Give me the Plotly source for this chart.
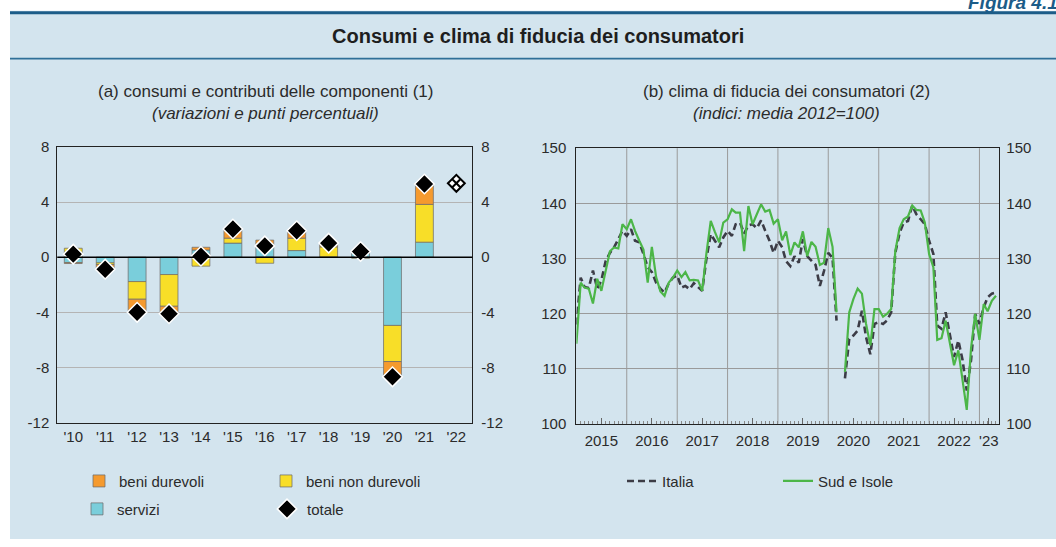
import plotly.graph_objects as go
import pandas as pd

# ---------------- data: panel (a) ----------------
anni = ["'10", "'11", "'12", "'13", "'14", "'15", "'16", "'17", "'18", "'19", "'20", "'21", "'22"]
servizi = [-0.39, -0.41, -1.77, -1.26, 0.52, 1.02, 0.80, 0.48, 0.02, 0.42, -4.95, 1.09, None]
beni_non_durevoli = [0.65, -0.12, -1.28, -2.30, -0.65, 0.36, -0.44, 0.90, 0.73, -0.08, -2.62, 2.74, None]
beni_durevoli = [-0.07, -0.33, -0.95, -0.53, 0.20, 0.65, 0.44, 0.56, 0.27, 0.05, -1.12, 1.48, None]
totale = [0.22, -0.87, -4.00, -4.10, 0.07, 2.04, 0.82, 1.92, 1.02, 0.41, -8.68, 5.31, None]
totale_stima = [None, None, None, None, None, None, None, None, None, None, None, None, 5.36]
ticks_a = [8, 4, 0, -4, -8, -12]

# ---------------- data: panel (b) ----------------
inizio_serie = "2015-01-01"
italia = [118.0, 126.5, 124.8, 124.6, 127.8, 124.5, 126.0, 129.5, 131.0, 132.0, 133.5, 135.0,
          134.1, 135.3, 133.2, 132.9, 130.8, 128.4, 127.5, 125.6, 124.5, 123.8, 125.5, 126.5,
          126.9, 124.7, 125.0, 124.4, 125.5, 124.8, 124.1, 130.0, 134.4, 133.2, 132.0, 133.8,
          135.0, 134.1, 136.2, 136.5, 134.5, 136.0, 136.2, 135.5, 136.9, 135.0, 133.2, 131.0,
          133.2, 132.0, 129.5, 128.6, 130.4, 129.2, 133.5, 130.4, 129.6, 128.8, 125.0, 127.7,
          131.0, 130.1, 118.7, None, 108.2, 115.4, 116.0, 116.9, 120.5, 115.7, 112.6, 118.1,
          118.4, 118.1, 118.7, 120.2, 131.0, 134.6, 136.5, 136.8, 139.6, 138.0, 137.1, 136.2,
          133.2, 130.8, 117.8, 117.2, 120.2, 116.3, 112.1, 115.1, 111.5, 106.0, 111.5, 119.9,
          118.1, 121.1, 122.9, 123.6, 123.8]
sud_isole = [114.5, 125.6, 124.7, 124.5, 121.8, 126.3, 124.1, 128.0, 131.3, 132.0, 131.8, 136.2,
             135.3, 137.1, 135.0, 133.2, 131.6, 125.6, 132.1, 126.6, 124.0, 123.2, 125.6, 126.5,
             127.8, 126.6, 127.5, 126.0, 126.1, 126.0, 124.1, 131.0, 136.8, 134.8, 132.9, 136.5,
             137.1, 138.9, 138.3, 138.3, 131.3, 139.5, 136.2, 138.0, 139.8, 138.5, 138.8, 136.3,
             137.1, 133.3, 134.9, 130.6, 132.9, 132.0, 134.9, 130.4, 133.0, 132.1, 128.8, 129.2,
             135.5, 132.1, 120.2, None, 109.4, 120.2, 122.6, 124.5, 123.6, 118.1, 114.2, 120.8,
             120.8, 119.4, 119.9, 120.8, 131.3, 135.5, 137.1, 137.6, 139.6, 138.8, 138.7, 136.5,
             130.8, 128.4, 115.2, 115.5, 118.7, 114.8, 110.6, 113.3, 107.9, 102.5, 113.6, 119.9,
             115.2, 121.7, 120.4, 122.3, 123.2]
etichette_b = ["2015", "2016", "2017", "2018", "2019", "2020", "2021", "2022", "'23"]
posizioni_b = ["2015-07-01", "2016-07-01", "2017-07-01", "2018-07-01", "2019-07-01",
               "2020-07-01", "2021-07-01", "2022-07-01", "2023-03-10"]
anni_griglia = [2016, 2017, 2018, 2019, 2020, 2021, 2022, 2023]
ticks_b = [150, 140, 130, 120, 110, 100]

date_b = pd.date_range(inizio_serie, periods=len(italia), freq="MS")

# ---------------- style ----------------
W, H = 1056, 547
FONT = "Liberation Sans, Arial, Helvetica, sans-serif"
TXT = "#2b2b2b"
BG = "#d3e4ee"
C_DUR = "#f59a2e"
C_NDUR = "#f8de28"
C_SERV = "#7acedb"
EDGE = "rgba(110,110,110,0.75)"

# the photographed page is offset/compressed slightly in height: compensate
Y_OFF, Y_SCALE = 7.8, 0.971


def px(x):
    return x / W


def py(y):
    return 1 - ((y - Y_OFF) / Y_SCALE) / H


fig = go.Figure()

# panel (a) bars
fig.add_trace(go.Bar(x=anni, y=servizi, name="servizi", marker=dict(color=C_SERV, line=dict(color=EDGE, width=1)),
                     width=0.56, legend="legend3", xaxis="x", yaxis="y"))
fig.add_trace(go.Bar(x=anni, y=beni_non_durevoli, name="beni non durevoli",
                     marker=dict(color=C_NDUR, line=dict(color=EDGE, width=1)),
                     width=0.56, legend="legend2", xaxis="x", yaxis="y"))
fig.add_trace(go.Bar(x=anni, y=beni_durevoli, name="beni durevoli",
                     marker=dict(color=C_DUR, line=dict(color=EDGE, width=1)),
                     width=0.56, legend="legend", xaxis="x", yaxis="y"))
fig.add_trace(go.Scatter(x=anni, y=totale, name="totale", mode="markers",
                         marker=dict(symbol="diamond", size=15, color="black", line=dict(color="white", width=1.5)),
                         legend="legend4", xaxis="x", yaxis="y"))
fig.add_trace(go.Scatter(x=anni, y=totale_stima, name="totale (stima)", mode="markers", showlegend=False,
                         marker=dict(symbol="diamond-x", size=13, color="white", line=dict(color="black", width=2)),
                         xaxis="x", yaxis="y"))
# invisible helper so the right-hand axis of panel (a) is drawn
fig.add_trace(go.Scatter(x=anni, y=totale, mode="markers", marker=dict(opacity=0), showlegend=False,
                         hoverinfo="skip", xaxis="x", yaxis="y3"))

# panel (b) lines
fig.add_trace(go.Scatter(x=date_b, y=italia, name="Italia", mode="lines",
                         line=dict(color="#3c3c46", width=2.6, dash="7px,4px"),
                         legend="legend5", xaxis="x2", yaxis="y2"))
fig.add_trace(go.Scatter(x=date_b, y=sud_isole, name="Sud e Isole", mode="lines",
                         line=dict(color="#4cb648", width=2.2),
                         legend="legend6", xaxis="x2", yaxis="y2"))
fig.add_trace(go.Scatter(x=date_b, y=italia, mode="lines", line=dict(width=0), opacity=0, showlegend=False,
                         hoverinfo="skip", xaxis="x2", yaxis="y4"))

dom_ax = [px(57.3), px(472.3)]
dom_ay = [py(422.3), py(146)]
dom_bx = [px(576.4), px(999.3)]
dom_by = [py(423.3), py(147.3)]

tickfont = dict(family=FONT, size=15, color=TXT)
testo_ticks_a = [str(v) for v in ticks_a]
testo_ticks_b = [str(v) for v in ticks_b]

shapes = [
    dict(type="rect", xref="paper", yref="paper", x0=px(10), x1=1.0, y0=0, y1=py(9.5), fillcolor=BG,
         line=dict(width=0), layer="below"),
    dict(type="line", xref="paper", yref="paper", x0=px(10), x1=1.0, y0=py(11.5), y1=py(11.5),
         line=dict(color="#1c5c88", width=3)),
    dict(type="line", xref="paper", yref="paper", x0=px(10), x1=1.0, y0=py(57.5), y1=py(57.5),
         line=dict(color="#2f6f98", width=1.6)),
    # zero line of panel (a), above the bars
    dict(type="line", xref="x domain", yref="y", x0=0, x1=1, y0=0, y1=0,
         line=dict(color="black", width=1.5), layer="above"),
]
for a in anni_griglia:
    shapes.append(dict(type="line", xref="x2", yref="y2 domain", x0=f"{a}-01-01", x1=f"{a}-01-01",
                       y0=0, y1=1, line=dict(color="#9a9a9a", width=1), layer="below"))

annotations = [
    dict(text="<b><i>Figura 4.1</i></b>", xref="paper", yref="paper", x=px(966), y=1 - 6 / H,
         xanchor="left", yanchor="bottom", showarrow=False,
         font=dict(family=FONT, size=19, color="#1c5c88")),
    dict(text="<b>Consumi e clima di fiducia dei consumatori</b>", xref="paper", yref="paper",
         x=px(538), y=py(35), xanchor="center", yanchor="middle", showarrow=False,
         font=dict(family=FONT, size=20, color="#1e1e1e")),
    dict(text="(a) consumi e contributi delle componenti (1)", xref="paper", yref="paper",
         x=px(265), y=py(90), xanchor="center", yanchor="middle", showarrow=False,
         font=dict(family=FONT, size=17, color=TXT)),
    dict(text="<i>(variazioni e punti percentuali)</i>", xref="paper", yref="paper",
         x=px(265), y=py(113), xanchor="center", yanchor="middle", showarrow=False,
         font=dict(family=FONT, size=17, color=TXT)),
    dict(text="(b) clima di fiducia dei consumatori (2)", xref="paper", yref="paper",
         x=px(786), y=py(90), xanchor="center", yanchor="middle", showarrow=False,
         font=dict(family=FONT, size=17, color=TXT)),
    dict(text="<i>(indici: media 2012=100)</i>", xref="paper", yref="paper",
         x=px(786), y=py(113), xanchor="center", yanchor="middle", showarrow=False,
         font=dict(family=FONT, size=17, color=TXT)),
]


def leg(x, y):
    return dict(x=px(x), y=py(y), xanchor="left", yanchor="middle", bgcolor="rgba(0,0,0,0)",
                font=dict(family=FONT, size=15, color=TXT), orientation="h")


fig.update_layout(
    width=W, height=H, margin=dict(l=0, r=0, t=0, b=0),
    paper_bgcolor="white", plot_bgcolor="white",
    barmode="relative", bargap=0.44,
    font=dict(family=FONT, size=15, color=TXT),
    shapes=shapes, annotations=annotations,
    xaxis=dict(domain=dom_ax, anchor="y", type="category", range=[-0.5, 12.5],
               showline=True, linecolor="#222", linewidth=1, mirror=True, ticks="",
               tickfont=tickfont, showgrid=False),
    yaxis=dict(domain=dom_ay, anchor="x", range=[-12, 8], tickvals=ticks_a, ticktext=testo_ticks_a,
               showline=True, linecolor="#222", linewidth=1, mirror=True,
               gridcolor="#b4b4b4", gridwidth=1, zeroline=False, ticks="", tickfont=tickfont,
               ticklabelstandoff=4),
    yaxis3=dict(overlaying="y", anchor="x", side="right", range=[-12, 8], tickvals=ticks_a,
                ticktext=testo_ticks_a,
                showgrid=False, zeroline=False, ticks="", tickfont=tickfont, showline=False,
                ticklabelstandoff=8),
    xaxis2=dict(domain=dom_bx, anchor="y2", type="date", range=["2015-01-01", "2023-05-25"],
                tickvals=posizioni_b, ticktext=etichette_b, showgrid=False,
                showline=True, linecolor="#222", linewidth=1.2, mirror=True,
                ticks="inside", ticklen=6, tickcolor="#666", tickfont=tickfont,
                minor=dict(dtick="M1", tick0="2015-01-01", ticks="inside", ticklen=3,
                           tickcolor="#888", showgrid=False),
                ticklabelstandoff=3),
    yaxis2=dict(domain=dom_by, anchor="x2", range=[100, 150], tickvals=ticks_b, ticktext=testo_ticks_b,
                showline=True, linecolor="#222", linewidth=1.2, mirror=True,
                gridcolor="#9a9a9a", gridwidth=1, zeroline=False, ticks="", tickfont=tickfont,
                ticklabelstandoff=6),
    yaxis4=dict(overlaying="y2", anchor="x2", side="right", range=[100, 150], tickvals=ticks_b,
                ticktext=testo_ticks_b,
                showgrid=False, zeroline=False, ticks="", tickfont=tickfont, showline=False,
                ticklabelstandoff=6),
    legend=leg(79, 481),
    legend2=leg(266, 481),
    legend3=leg(77, 509),
    legend4=leg(267, 509),
    legend5=leg(622, 481),
    legend6=leg(778, 481),
    showlegend=True,
)

page_fix = (
    "var h=document.documentElement;h.style.margin='0';h.style.overflow='hidden';"
    "h.style.backgroundColor='" + BG + "';"
    "h.style.backgroundImage='linear-gradient(#ffffff, #ffffff)';"
    "h.style.backgroundRepeat='no-repeat';h.style.backgroundSize='100% 50%';"
    "document.body.style.margin='0';document.body.style.padding='0';"
    "document.body.style.background='transparent';"
    "document.body.style.overflow='hidden';"
)

fig.write_html("out.html", config={"displayModeBar": False}, post_script=page_fix)
